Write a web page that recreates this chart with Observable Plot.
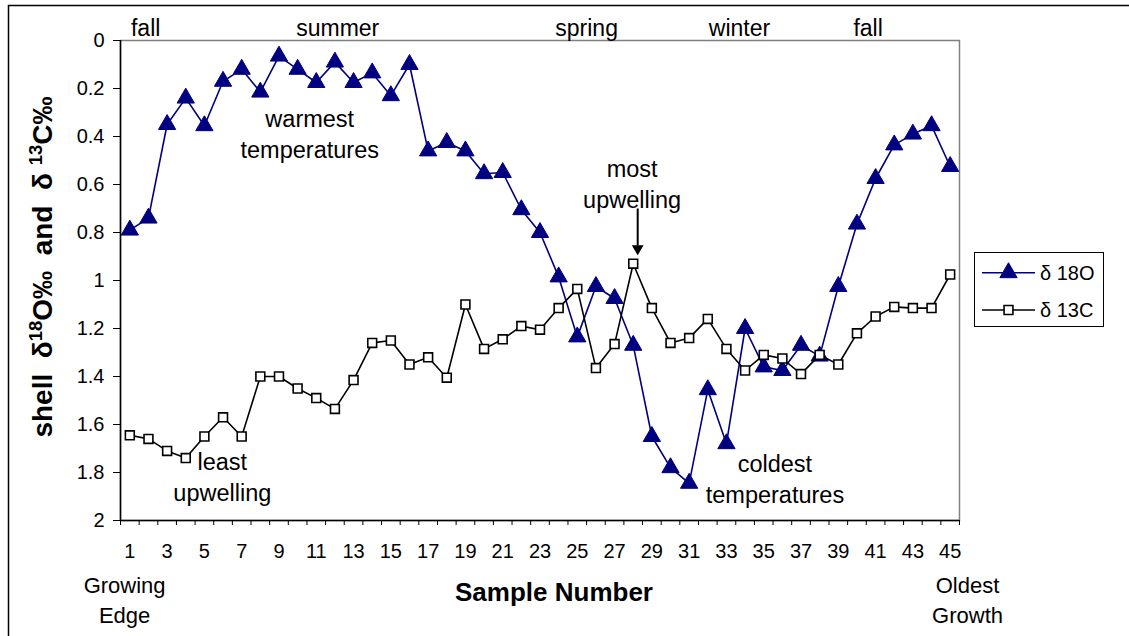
<!DOCTYPE html>
<html><head><meta charset="utf-8">
<script src="https://cdn.jsdelivr.net/npm/d3@7"></script>
<script src="https://cdn.jsdelivr.net/npm/@observablehq/plot@0.6"></script>
<style>
html,body{margin:0;padding:0;background:#fff;}
#chart{width:1129px;height:636px;position:relative;}
svg{display:block;overflow:visible;}
</style></head><body><div id="chart"></div>
<script>
// ---- data ----
const samples = [1,2,3,4,5,6,7,8,9,10,11,12,13,14,15,16,17,18,19,20,21,22,23,24,25,26,27,28,29,30,31,32,33,34,35,36,37,38,39,40,41,42,43,44,45];
const d18O = [0.79,0.74,0.35,0.24,0.355,0.17,0.12,0.215,0.065,0.12,0.175,0.09,0.175,0.135,0.23,0.10,0.46,0.425,0.46,0.555,0.55,0.705,0.80,0.985,1.235,1.025,1.075,1.27,1.65,1.78,1.845,1.455,1.68,1.20,1.36,1.375,1.27,1.315,1.025,0.765,0.575,0.435,0.39,0.355,0.525];
const d13C = [1.645,1.66,1.71,1.74,1.65,1.57,1.65,1.40,1.40,1.45,1.49,1.535,1.415,1.26,1.25,1.35,1.32,1.405,1.10,1.285,1.245,1.19,1.205,1.115,1.035,1.365,1.265,0.93,1.115,1.26,1.24,1.16,1.285,1.375,1.31,1.325,1.39,1.31,1.35,1.22,1.15,1.11,1.115,1.115,0.975];
const seriesNames = ["δ 18O", "δ 13C"];
const yTicks = [0,0.2,0.4,0.6,0.8,1,1.2,1.4,1.6,1.8,2];
const xTickLabels = [1,3,5,7,9,11,13,15,17,19,21,23,25,27,29,31,33,35,37,39,41,43,45];
const xTickMarks = [0.5,1.5,2.5,3.5,4.5,5.5,6.5,7.5,8.5,9.5,10.5,11.5,12.5,13.5,14.5,15.5,16.5,17.5,18.5,19.5,20.5,21.5,22.5,23.5,24.5,25.5,26.5,27.5,28.5,29.5,30.5,31.5,32.5,33.5,34.5,35.5,36.5,37.5,38.5,39.5,40.5,41.5,42.5,43.5,44.5,45.5];
const seasons = ["fall","summer","spring","winter","fall"];
const seasonX = [1.85,12.15,25.5,33.7,40.6];
const notes = ["warmest\ntemperatures","most\nupwelling","least\nupwelling","coldest\ntemperatures"];
const noteX = [10.65,27.94,5.96,35.6];
const noteY = [0.382,0.594,1.8125,1.823];
const endNotes = ["Growing\nEdge","Oldest\nGrowth"];
const endNoteX = [0.72,45.93];
const arrowX = 28.24, arrowY1 = 0.70, arrowY2 = 0.855, arrowTipY = 0.867;

// ---- table ----
const rows = samples.map((s,i)=>({s, o:d18O[i], c:d13C[i]}));
const font = "'Liberation Sans', Arial, sans-serif";
const NAVY = "#000080";

const plot = Plot.plot({
  width: 1129, height: 636,
  marginLeft: 120, marginRight: 170, marginTop: 40, marginBottom: 116,
  style: {fontFamily: font, fontSize: "20px", background: "transparent", overflow: "visible"},
  x: {domain: [0.5, 45.5], axis: null},
  y: {domain: [0, 2], reverse: true, axis: null},
  marks: [
    Plot.frame({stroke: "#808080", strokeWidth: 1.5}),
    Plot.ruleX([0.5], {stroke: "#000", strokeWidth: 1.5}),
    Plot.ruleY([2], {stroke: "#000", strokeWidth: 1.5}),
    Plot.axisY(yTicks, {tickSize: 7, tickPadding: 9, tickFormat: d => String(+d.toFixed(1)), fontSize: 20, label: null, stroke: "#000", fill: "#000"}),
    Plot.axisX(xTickMarks, {tickSize: 5, tickFormat: () => "", label: null, stroke: "#000"}),
    Plot.text(xTickLabels, {x: d => d, y: 2, dy: 31, text: d => String(d), fontSize: 20, fill: "#000"}),
    // series 1
    Plot.line(rows, {x: "s", y: "o", stroke: NAVY, strokeWidth: 1.6}),
    Plot.dot(rows, {x: "s", y: "o", symbol: "triangle", r: 6.4, fill: NAVY, stroke: NAVY, strokeWidth: 1}),
    // series 2
    Plot.line(rows, {x: "s", y: "c", stroke: "#000", strokeWidth: 1.6}),
    Plot.dot(rows, {x: "s", y: "c", symbol: "square", r: 5.0, fill: "#fff", stroke: "#000", strokeWidth: 1.6}),
    // season labels
    Plot.text(seasons, {x: (d,i) => seasonX[i], y: -0.05, text: d => d, fontSize: 23, fill: "#000"}),
    // annotations
    Plot.text(notes, {x: (d,i) => noteX[i], y: (d,i) => noteY[i], text: d => d, fontSize: 23.5, lineHeight: 1.32, fill: "#000"}),
    Plot.text(endNotes, {x: (d,i) => endNoteX[i], y: 2.325, text: d => d, fontSize: 22, lineHeight: 1.36, fill: "#000"}),
    Plot.text(["Sample Number"], {x: 23.75, y: 2, dy: 72, text: d => d, fontSize: 26, fontWeight: "bold", fill: "#000"}),
    // arrow
    Plot.link([0], {x1: arrowX, x2: arrowX, y1: arrowY1, y2: arrowY2, stroke: "#000", strokeWidth: 2}),
    Plot.dot([0], {x: arrowX, y: arrowTipY, symbol: "triangle", r: 3.4, rotate: 180, fill: "#000", stroke: "#000"})
  ]
});

const svg = d3.select(plot);
// outer border (top and left)
svg.insert("path", ":first-child").attr("d", "M8.5,1136 V5.5 H1129").attr("fill", "none").attr("stroke", "#000").attr("stroke-width", 1.5);

// y-axis title with superscripts
const yt = svg.append("text")
  .attr("transform", "translate(52,267) rotate(-90)")
  .attr("text-anchor", "middle")
  .attr("font-family", font).attr("font-size", 28).attr("font-weight", "bold")
  .attr("fill", "#000").style("white-space", "pre");
yt.append("tspan").text("shell  δ");
yt.append("tspan").attr("baseline-shift", "super").attr("font-size", 18.5).text("18");
yt.append("tspan").text("O‰  and  δ ");
yt.append("tspan").attr("baseline-shift", "super").attr("font-size", 18.5).text("13");
yt.append("tspan").text("C‰");

// legend
const lg = svg.append("g").attr("font-family", font).attr("font-size", 20).attr("text-anchor", "start");
lg.append("rect").attr("x", 974.5).attr("y", 252.5).attr("width", 129).attr("height", 74)
  .attr("fill", "#fff").attr("stroke", "#000").attr("stroke-width", 1);
const legendItems = [
  {name: seriesNames[0], y: 272.7, color: NAVY, sym: d3.symbolTriangle, size: Math.PI*6.4*6.4, fill: NAVY},
  {name: seriesNames[1], y: 310, color: "#000", sym: d3.symbolSquare, size: Math.PI*5*5, fill: "#fff"}
];
for (const it of legendItems) {
  lg.append("line").attr("x1", 982).attr("x2", 1035).attr("y1", it.y).attr("y2", it.y)
    .attr("stroke", it.color).attr("stroke-width", 1.6);
  lg.append("path").attr("d", d3.symbol(it.sym, it.size)()).attr("transform", `translate(1008.5,${it.y})`)
    .attr("fill", it.fill).attr("stroke", it.color).attr("stroke-width", it.fill === "#fff" ? 1.6 : 1);
  lg.append("text").attr("x", 1040).attr("y", it.y).attr("dy", "0.35em").attr("fill", "#000").attr("text-anchor", "start").text(it.name);
}

document.getElementById("chart").appendChild(plot);
</script>
</body></html>
